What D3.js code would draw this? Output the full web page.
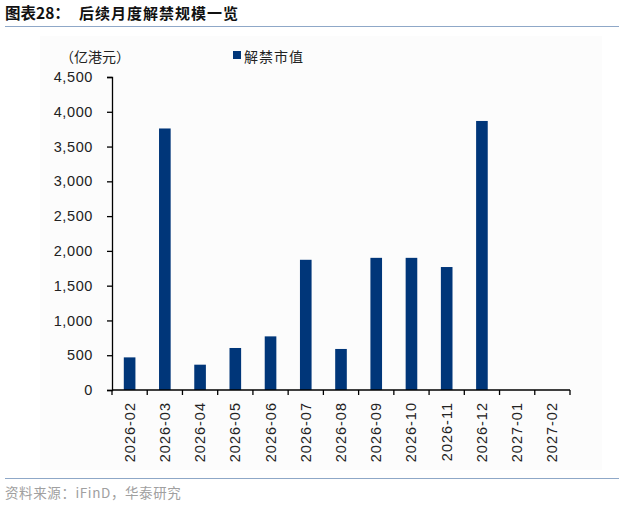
<!DOCTYPE html>
<html><head><meta charset="utf-8">
<script src="https://cdn.jsdelivr.net/npm/d3@7"></script>
<style>body{margin:0;background:#fff;}svg{display:block;}</style>
</head><body>
<svg id="c" width="619" height="507"></svg>
<script>
const categories = ["2026-02","2026-03","2026-04","2026-05","2026-06","2026-07","2026-08","2026-09","2026-10","2026-11","2026-12","2027-01","2027-02"];
const values = [469, 3760, 364, 604, 771, 1872, 590, 1900, 1900, 1768, 3868, null, null];
const yTicks = [0,500,1000,1500,2000,2500,3000,3500,4000,4500];
const seriesName = "解禁市值";
const unitLabel = "（亿港元）";
const titlePrefix = "图表28：";
const titleText = "后续月度解禁规模一览";
const sourceText = "资料来源：iFinD，华泰研究";

const svg = d3.select("#c");
const font = "Arial, 'Liberation Sans', 'Noto Sans CJK SC', sans-serif";
const cjk = "'Noto Sans CJK SC', sans-serif";

svg.append("rect").attr("x",40).attr("y",36).attr("width",562).attr("height",434).attr("fill","#fcfcfc");

svg.append("text").attr("x",5).attr("y",19).attr("font-family",cjk).attr("font-weight","bold")
  .attr("font-size",15.5).attr("fill","#111").text(titlePrefix);
svg.append("text").attr("x",79).attr("y",19).attr("font-family",cjk).attr("font-weight","bold")
  .attr("font-size",15).attr("fill","#111").attr("letter-spacing",1).text(titleText);
svg.append("line").attr("x1",5).attr("x2",619).attr("y1",26.5).attr("y2",26.5).attr("stroke","#8fa8c8").attr("stroke-width",1.2);

const x = d3.scaleBand().domain(categories).range([112,570]).paddingInner(0.67).paddingOuter(0.335);
const y = d3.scaleLinear().domain([0,4500]).range([390,77]);

svg.append("g").selectAll("rect").data(categories.map((c,i)=>({c,v:values[i]})).filter(d=>d.v!=null))
  .join("rect").attr("x",d=>x(d.c)).attr("width",x.bandwidth())
  .attr("y",d=>y(d.v)).attr("height",d=>y(0)-y(d.v)).attr("fill","#003679");

const ya = svg.append("g").attr("transform","translate(112,0)")
  .call(d3.axisLeft(y).tickValues(yTicks).tickFormat(d3.format(",")).tickSize(5).tickPadding(14));
ya.select(".domain").attr("stroke","#000").attr("stroke-width",1.3);
ya.selectAll("line").attr("stroke","#000").attr("stroke-width",1.3);
ya.selectAll("text").attr("font-family",font).attr("font-size",14.5).attr("letter-spacing",0.6).attr("fill","#222");

const xBoundary = d3.scaleLinear().domain([0,categories.length]).range([112,570]);
const xa = svg.append("g").attr("transform","translate(0,390)");
xa.append("line").attr("x1",112).attr("x2",570).attr("stroke","#000").attr("stroke-width",1.3);
xa.selectAll("line.t").data(d3.range(categories.length+1)).join("line").attr("class","t")
  .attr("x1",d=>xBoundary(d)).attr("x2",d=>xBoundary(d)).attr("y1",0).attr("y2",5)
  .attr("stroke","#000").attr("stroke-width",1.3);
xa.selectAll("text").data(categories).join("text")
  .attr("transform",d=>`translate(${x(d)+x.bandwidth()/2+5},12) rotate(-90)`)
  .attr("text-anchor","end").attr("font-family",font).attr("font-size",14.5).attr("letter-spacing",1)
  .attr("fill","#222").text(d=>d);

svg.append("text").attr("x",60).attr("y",62).attr("font-family",cjk).attr("font-size",14).attr("fill","#222").text(unitLabel);
svg.append("rect").attr("x",233).attr("y",51).attr("width",8).attr("height",8).attr("fill","#003679");
svg.append("text").attr("x",244).attr("y",62).attr("font-family",cjk).attr("font-size",14).attr("fill","#222")
  .attr("letter-spacing",1).text(seriesName);

svg.append("line").attr("x1",5).attr("x2",619).attr("y1",478.5).attr("y2",478.5).attr("stroke","#8fa8c8").attr("stroke-width",1.2);
svg.append("text").attr("x",5).attr("y",498).attr("font-family",cjk).attr("font-size",13.5).attr("fill","#a0a0a0")
  .attr("letter-spacing",0.6).text(sourceText);
</script>
</body></html>
